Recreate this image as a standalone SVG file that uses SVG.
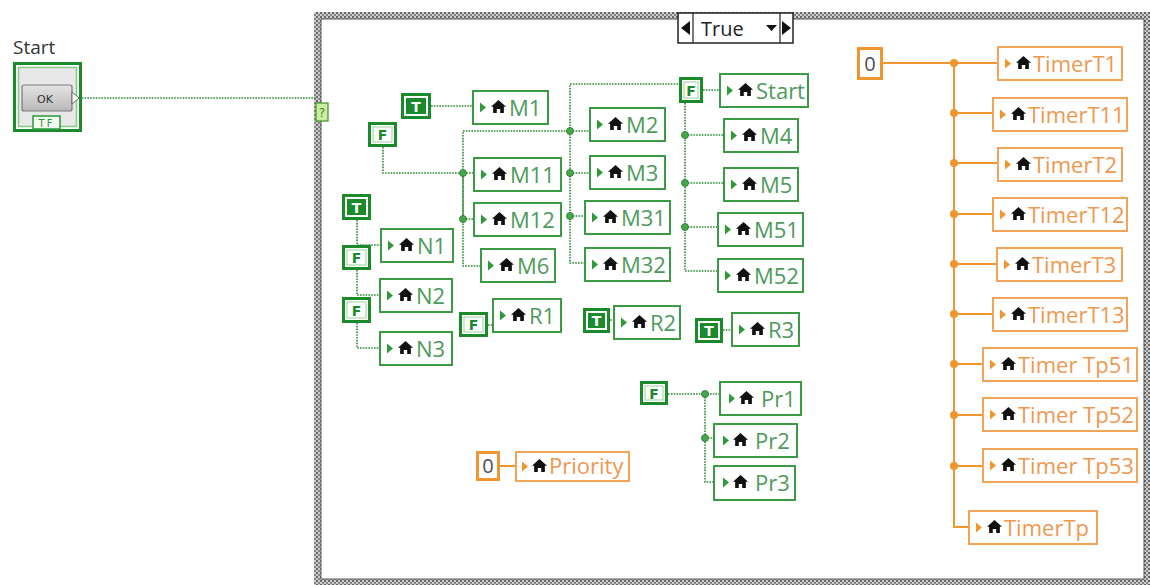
<svg xmlns="http://www.w3.org/2000/svg" width="1150" height="585" viewBox="0 0 1150 585">
<style>
.wb{fill:none;stroke:#2e8b36;stroke-width:1.6;stroke-dasharray:1.6 1.2}
.wo{fill:none;stroke:#f0962e;stroke-width:2}
.jg{fill:#46a84a;stroke:#1f7a2a;stroke-width:0.8}
.jo{fill:#f0962e}
.gb{fill:#fff;stroke:#3c9a44;stroke-width:2}
.ob{fill:#fff;stroke:#f2a45a;stroke-width:2}
.gt{fill:#4e9a5a;font-family:"Open Sans","Noto Sans",sans-serif;font-size:22px}
.ot{fill:#ee9850;font-family:"Open Sans","Noto Sans",sans-serif;font-size:22px}
.kb{fill:#fff;stroke:#1b8a2b;stroke-width:3}
.kin{fill:#1b8a2b}
.kfi{fill:#fff;stroke:#9bd39b;stroke-width:1}
.kt{font-family:"DejaVu Sans",sans-serif;font-size:14px;font-weight:bold;text-anchor:middle}
.nb{fill:#fff;stroke:#f0962e;stroke-width:3}
.nt{fill:#4a4f5a;font-family:"Open Sans",sans-serif;font-size:20px;text-anchor:middle}
</style>
<defs>
<pattern id="hatch" width="4" height="4" patternUnits="userSpaceOnUse">
<rect width="4" height="4" fill="#cfcfcf"/>
<rect width="2" height="2" fill="#666"/>
<rect x="2" y="2" width="2" height="2" fill="#838383"/>
</pattern>
<linearGradient id="btn" x1="0" y1="0" x2="0" y2="1">
<stop offset="0" stop-color="#e4e4e4"/>
<stop offset="1" stop-color="#b8b8b8"/>
</linearGradient>
<symbol id="house" viewBox="0 0 14 12" width="15" height="13">
<path d="M7 0 L14 6.2 L12 6.2 L12 12 L8.6 12 L8.6 8.3 L5.4 8.3 L5.4 12 L2 12 L2 6.2 L0 6.2 Z" fill="#111"/>
</symbol>
<symbol id="trig" viewBox="0 0 6 10" width="6" height="11">
<polygon points="0,0 6,5 0,10" fill="#2e9a3a"/>
</symbol>
<symbol id="trio" viewBox="0 0 6 10" width="6" height="11">
<polygon points="0,0 6,5 0,10" fill="#f0962e"/>
</symbol>
</defs>

<!-- case structure frame -->
<g id="case-structure">
<rect x="314" y="12" width="836" height="573" fill="url(#hatch)"/>
<rect x="321" y="19" width="823" height="560" fill="#fff" stroke="#555" stroke-width="1"/>
</g>
<g id="selector">
<rect x="678" y="13" width="115" height="30" fill="#fff" stroke="#222" stroke-width="1.5"/>
<line x1="693" y1="13" x2="693" y2="43" stroke="#222" stroke-width="1.2"/>
<line x1="780" y1="13" x2="780" y2="43" stroke="#222" stroke-width="1.2"/>
<polygon points="681,28 690,21 690,35" fill="#111"/>
<polygon points="791,28 782,21 782,35" fill="#111"/>
<polygon points="766,25 777,25 771.5,31" fill="#111"/>
<text x="701" y="36" font-family="Open Sans,sans-serif" font-size="20" fill="#222">True</text>
</g>
<g id="selector-terminal">
<rect x="316" y="103" width="12" height="18" fill="#cdeea0" stroke="#3f8f2a" stroke-width="1.2"/>
<text x="322" y="117" font-family="DejaVu Sans,sans-serif" font-size="12" fill="#4d7f1f" text-anchor="middle">?</text>
</g>

<!-- connectors -->
<g id="connectors">
<path class="wb" d="M79 98 H316"/>
<path class="wb" d="M431 106 H472"/>
<path class="wb" d="M383 147 V173 H473"/>
<path class="wb" d="M473 219 H463 V131 H570 V84 H679"/>
<path class="wb" d="M463 173 V266 H480"/>
<path class="wb" d="M570 131 H589 M570 131 V263 H584 M570 173 H589 M570 216 H584"/>
<path class="wb" d="M703 90 H719"/>
<path class="wb" d="M685 103 V271 H717 M685 135 H723 M685 183 H723 M685 227 H717"/>
<path class="wb" d="M357 220 V245 H380"/>
<path class="wb" d="M357 270 V295 H379"/>
<path class="wb" d="M357 323 V348 H379"/>
<path class="wb" d="M488 325 H492"/>
<path class="wb" d="M610 320 H613"/>
<path class="wb" d="M723 330 H731"/>
<path class="wb" d="M668 394 H719 M705 394 V482 H713 M705 438 H713"/>
<circle class="jg" cx="463" cy="173" r="3.5"/>
<circle class="jg" cx="463" cy="219" r="3.5"/>
<circle class="jg" cx="570" cy="131" r="3.5"/>
<circle class="jg" cx="570" cy="173" r="3.5"/>
<circle class="jg" cx="570" cy="216" r="3.5"/>
<circle class="jg" cx="685" cy="135" r="3.5"/>
<circle class="jg" cx="685" cy="183" r="3.5"/>
<circle class="jg" cx="685" cy="227" r="3.5"/>
<circle class="jg" cx="705" cy="394" r="3.5"/>
<circle class="jg" cx="705" cy="438" r="3.5"/>
<path class="wo" d="M499 466 H515"/>
<path class="wo" d="M882 63 H997 M954 63 V527 H968 M954 113 H992 M954 163 H997 M954 214 H992 M954 264 H996 M954 314 H992 M954 364 H982 M954 415 H982 M954 466 H982"/>
<circle class="jo" cx="954" cy="63" r="4"/>
<circle class="jo" cx="954" cy="113" r="4"/>
<circle class="jo" cx="954" cy="163" r="4"/>
<circle class="jo" cx="954" cy="214" r="4"/>
<circle class="jo" cx="954" cy="264" r="4"/>
<circle class="jo" cx="954" cy="314" r="4"/>
<circle class="jo" cx="954" cy="364" r="4"/>
<circle class="jo" cx="954" cy="415" r="4"/>
<circle class="jo" cx="954" cy="466" r="4"/>
</g>

<!-- Start control -->
<g id="start-control">
<text x="13" y="54" font-family="Open Sans,sans-serif" font-size="19" fill="#333">Start</text>
<rect x="14.5" y="63.5" width="66" height="67" fill="#fff" stroke="#1e8a2e" stroke-width="3"/>
<rect x="18.5" y="67.5" width="58" height="59" fill="#e8e8e8" stroke="#86c986" stroke-width="1.5"/>
<rect x="22" y="85" width="50" height="26" rx="2" fill="url(#btn)" stroke="#7a7a7a" stroke-width="1.2"/>
<text x="45" y="103" font-family="DejaVu Sans,sans-serif" font-size="11" fill="#333" text-anchor="middle">OK</text>
<polygon points="72,92 79,98 72,104" fill="#fff" stroke="#666" stroke-width="1"/>
<rect x="33" y="116" width="27" height="13" fill="#f3fbf1" stroke="#2a9a3a" stroke-width="1.5"/>
<text x="46.5" y="127" font-family="DejaVu Sans,sans-serif" font-size="10" fill="#2a9a3a" text-anchor="middle" letter-spacing="2">TF</text>
</g>

<!-- boolean constants -->
<g id="k-T-M1" transform="translate(401,93)"><rect class="kb" x="1.5" y="1.5" width="27" height="23"/><rect class="kin" x="5" y="5" width="20" height="16"/><text class="kt" x="15" y="18.5" fill="#fff">T</text></g>
<g id="k-F-M11" transform="translate(368,122)"><rect class="kb" x="1.5" y="1.5" width="26" height="22"/><rect class="kfi" x="5" y="5" width="19" height="15"/><text class="kt" x="14.5" y="18" fill="#1b8a2b">F</text></g>
<g id="k-F-Start" transform="translate(679,77)"><rect class="kb" x="1.5" y="1.5" width="21" height="23"/><rect class="kfi" x="5" y="5" width="14" height="16"/><text class="kt" x="12" y="18.5" fill="#1b8a2b">F</text></g>
<g id="k-T-N1" transform="translate(342,194)"><rect class="kb" x="1.5" y="1.5" width="26" height="23"/><rect class="kin" x="5" y="5" width="19" height="16"/><text class="kt" x="14.5" y="18.5" fill="#fff">T</text></g>
<g id="k-F-N2" transform="translate(342,245)"><rect class="kb" x="1.5" y="1.5" width="26" height="22"/><rect class="kfi" x="5" y="5" width="19" height="15"/><text class="kt" x="14.5" y="18" fill="#1b8a2b">F</text></g>
<g id="k-F-N3" transform="translate(342,297)"><rect class="kb" x="1.5" y="1.5" width="26" height="23"/><rect class="kfi" x="5" y="5" width="19" height="16"/><text class="kt" x="14.5" y="18.5" fill="#1b8a2b">F</text></g>
<g id="k-F-R1" transform="translate(459,312)"><rect class="kb" x="1.5" y="1.5" width="26" height="22"/><rect class="kfi" x="5" y="5" width="19" height="15"/><text class="kt" x="14.5" y="18" fill="#1b8a2b">F</text></g>
<g id="k-T-R2" transform="translate(583,308)"><rect class="kb" x="1.5" y="1.5" width="24" height="22"/><rect class="kin" x="5" y="5" width="17" height="15"/><text class="kt" x="13.5" y="18" fill="#fff">T</text></g>
<g id="k-T-R3" transform="translate(695,318)"><rect class="kb" x="1.5" y="1.5" width="25" height="22"/><rect class="kin" x="5" y="5" width="18" height="15"/><text class="kt" x="14" y="18" fill="#fff">T</text></g>
<g id="k-F-Pr" transform="translate(640,381)"><rect class="kb" x="1.5" y="1.5" width="25" height="21"/><rect class="kfi" x="5" y="5" width="18" height="14"/><text class="kt" x="14" y="17.5" fill="#1b8a2b">F</text></g>

<!-- numeric constants -->
<g id="k-0-Priority"><rect class="nb" x="477.5" y="452.5" width="21" height="27"/><text class="nt" x="488" y="473">0</text></g>
<g id="k-0-Timer"><rect class="nb" x="858.5" y="48.5" width="23" height="30"/><text class="nt" x="870" y="71">0</text></g>

<!-- green local variables -->
<g id="lv-M1" transform="translate(472,90)"><rect class="gb" x="1" y="1" width="75" height="33"/><use href="#trig" x="8" y="12"/><use href="#house" x="19" y="10"/><text class="gt" x="37" y="26">M1</text></g>
<g id="lv-Start" transform="translate(719,73)"><rect class="gb" x="1" y="1" width="88" height="33"/><use href="#trig" x="8" y="12"/><use href="#house" x="19" y="10"/><text class="gt" x="37" y="26">Start</text></g>
<g id="lv-M2" transform="translate(589,107)"><rect class="gb" x="1" y="1" width="75" height="33"/><use href="#trig" x="8" y="12"/><use href="#house" x="19" y="10"/><text class="gt" x="37" y="26">M2</text></g>
<g id="lv-M11" transform="translate(473,157)"><rect class="gb" x="1" y="1" width="87" height="33"/><use href="#trig" x="8" y="12"/><use href="#house" x="19" y="10"/><text class="gt" x="37" y="26">M11</text></g>
<g id="lv-M3" transform="translate(589,155)"><rect class="gb" x="1" y="1" width="75" height="33"/><use href="#trig" x="8" y="12"/><use href="#house" x="19" y="10"/><text class="gt" x="37" y="26">M3</text></g>
<g id="lv-M12" transform="translate(473,202)"><rect class="gb" x="1" y="1" width="87" height="33"/><use href="#trig" x="8" y="12"/><use href="#house" x="19" y="10"/><text class="gt" x="37" y="26">M12</text></g>
<g id="lv-M31" transform="translate(584,200)"><rect class="gb" x="1" y="1" width="85" height="33"/><use href="#trig" x="8" y="12"/><use href="#house" x="19" y="10"/><text class="gt" x="37" y="26">M31</text></g>
<g id="lv-M6" transform="translate(480,248)"><rect class="gb" x="1" y="1" width="74" height="33"/><use href="#trig" x="8" y="12"/><use href="#house" x="19" y="10"/><text class="gt" x="37" y="26">M6</text></g>
<g id="lv-M32" transform="translate(584,247)"><rect class="gb" x="1" y="1" width="85" height="33"/><use href="#trig" x="8" y="12"/><use href="#house" x="19" y="10"/><text class="gt" x="37" y="26">M32</text></g>
<g id="lv-M4" transform="translate(723,118)"><rect class="gb" x="1" y="1" width="74" height="33"/><use href="#trig" x="8" y="12"/><use href="#house" x="19" y="10"/><text class="gt" x="37" y="26">M4</text></g>
<g id="lv-M5" transform="translate(723,167)"><rect class="gb" x="1" y="1" width="74" height="33"/><use href="#trig" x="8" y="12"/><use href="#house" x="19" y="10"/><text class="gt" x="37" y="26">M5</text></g>
<g id="lv-M51" transform="translate(717,212)"><rect class="gb" x="1" y="1" width="85" height="33"/><use href="#trig" x="8" y="12"/><use href="#house" x="19" y="10"/><text class="gt" x="37" y="26">M51</text></g>
<g id="lv-M52" transform="translate(717,258)"><rect class="gb" x="1" y="1" width="85" height="33"/><use href="#trig" x="8" y="12"/><use href="#house" x="19" y="10"/><text class="gt" x="37" y="26">M52</text></g>
<g id="lv-N1" transform="translate(380,228)"><rect class="gb" x="1" y="1" width="72" height="33"/><use href="#trig" x="8" y="12"/><use href="#house" x="19" y="10"/><text class="gt" x="37" y="26">N1</text></g>
<g id="lv-N2" transform="translate(379,278)"><rect class="gb" x="1" y="1" width="72" height="33"/><use href="#trig" x="8" y="12"/><use href="#house" x="19" y="10"/><text class="gt" x="37" y="26">N2</text></g>
<g id="lv-N3" transform="translate(379,331)"><rect class="gb" x="1" y="1" width="72" height="33"/><use href="#trig" x="8" y="12"/><use href="#house" x="19" y="10"/><text class="gt" x="37" y="26">N3</text></g>
<g id="lv-R1" transform="translate(492,298)"><rect class="gb" x="1" y="1" width="68" height="33"/><use href="#trig" x="8" y="12"/><use href="#house" x="19" y="10"/><text class="gt" x="37" y="26">R1</text></g>
<g id="lv-R2" transform="translate(613,305)"><rect class="gb" x="1" y="1" width="66" height="33"/><use href="#trig" x="8" y="12"/><use href="#house" x="19" y="10"/><text class="gt" x="37" y="26">R2</text></g>
<g id="lv-R3" transform="translate(731,312)"><rect class="gb" x="1" y="1" width="67" height="33"/><use href="#trig" x="8" y="12"/><use href="#house" x="19" y="10"/><text class="gt" x="37" y="26">R3</text></g>
<g id="lv-Pr1" transform="translate(719,381)"><rect class="gb" x="1" y="1" width="81" height="33"/><use href="#trig" x="10" y="12"/><use href="#house" x="20" y="10"/><text class="gt" x="42" y="26">Pr1</text></g>
<g id="lv-Pr2" transform="translate(713,423)"><rect class="gb" x="1" y="1" width="83" height="33"/><use href="#trig" x="10" y="12"/><use href="#house" x="20" y="10"/><text class="gt" x="42" y="26">Pr2</text></g>
<g id="lv-Pr3" transform="translate(713,465)"><rect class="gb" x="1" y="1" width="81" height="34"/><use href="#trig" x="10" y="12"/><use href="#house" x="20" y="10"/><text class="gt" x="42" y="26">Pr3</text></g>

<!-- orange local variables -->
<g id="lv-Priority" transform="translate(515,451)"><rect class="ob" x="1" y="1" width="113" height="29"/><use href="#trio" x="7" y="10"/><use href="#house" x="17" y="8"/><text class="ot" x="34" y="23">Priority</text></g>
<g id="lv-TimerT1" transform="translate(997,46)"><rect class="ob" x="1" y="1" width="124" height="33"/><use href="#trio" x="8" y="12"/><use href="#house" x="19" y="10"/><text class="ot" x="36" y="26">TimerT1</text></g>
<g id="lv-TimerT11" transform="translate(992,97)"><rect class="ob" x="1" y="1" width="134" height="33"/><use href="#trio" x="8" y="12"/><use href="#house" x="19" y="10"/><text class="ot" x="36" y="26">TimerT11</text></g>
<g id="lv-TimerT2" transform="translate(997,147)"><rect class="ob" x="1" y="1" width="124" height="33"/><use href="#trio" x="8" y="12"/><use href="#house" x="19" y="10"/><text class="ot" x="36" y="26">TimerT2</text></g>
<g id="lv-TimerT12" transform="translate(992,197)"><rect class="ob" x="1" y="1" width="134" height="33"/><use href="#trio" x="8" y="12"/><use href="#house" x="19" y="10"/><text class="ot" x="36" y="26">TimerT12</text></g>
<g id="lv-TimerT3" transform="translate(996,247)"><rect class="ob" x="1" y="1" width="125" height="33"/><use href="#trio" x="8" y="12"/><use href="#house" x="19" y="10"/><text class="ot" x="36" y="26">TimerT3</text></g>
<g id="lv-TimerT13" transform="translate(992,297)"><rect class="ob" x="1" y="1" width="134" height="33"/><use href="#trio" x="8" y="12"/><use href="#house" x="19" y="10"/><text class="ot" x="36" y="26">TimerT13</text></g>
<g id="lv-TimerTp51" transform="translate(982,347)"><rect class="ob" x="1" y="1" width="154" height="33"/><use href="#trio" x="8" y="12"/><use href="#house" x="19" y="10"/><text class="ot" x="36" y="26">Timer Tp51</text></g>
<g id="lv-TimerTp52" transform="translate(982,397)"><rect class="ob" x="1" y="1" width="154" height="33"/><use href="#trio" x="8" y="12"/><use href="#house" x="19" y="10"/><text class="ot" x="36" y="26">Timer Tp52</text></g>
<g id="lv-TimerTp53" transform="translate(982,448)"><rect class="ob" x="1" y="1" width="154" height="33"/><use href="#trio" x="8" y="12"/><use href="#house" x="19" y="10"/><text class="ot" x="36" y="26">Timer Tp53</text></g>
<g id="lv-TimerTp" transform="translate(968,510)"><rect class="ob" x="1" y="1" width="128" height="33"/><use href="#trio" x="8" y="12"/><use href="#house" x="19" y="10"/><text class="ot" x="36" y="26">TimerTp</text></g>
</svg>
